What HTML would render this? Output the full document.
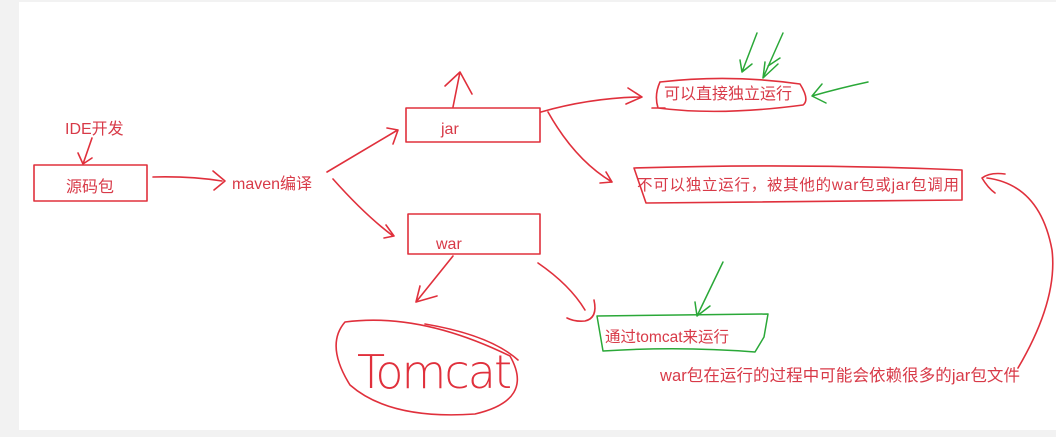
<!DOCTYPE html>
<html><head><meta charset="utf-8"><style>
html,body{margin:0;padding:0;background:#f2f2f2;width:1056px;height:437px;overflow:hidden}
svg{display:block}
text{font-family:"Liberation Sans","Noto Sans CJK SC",sans-serif;fill:#d83a48;font-size:16px}
</style></head><body>
<svg width="1056" height="437" viewBox="0 0 1056 437">
<rect x="19" y="2" width="1037" height="428" fill="#fff"/>
<g fill="none" stroke="#e0303c" stroke-width="1.6" stroke-linecap="round" stroke-linejoin="round">
<rect x="34" y="165" width="113" height="36"/>
<rect x="406" y="108" width="134" height="34"/>
<rect x="408" y="214" width="132" height="40"/>
<path d="M92 138 L83 164 M78 153 L83 164 L92 158"/>
<path d="M153 177 Q190 176 222 181 M213 171 L225 181 L214 190"/>
<path d="M327 172 L396 131 M387 128 L398 130 L393 144"/>
<path d="M333 179 Q365 215 393 236 M386 225 L394 236 L384 238"/>
<path d="M453 107 L460 72 M445 86 L460 72 L472 94"/>
<path d="M541 112 Q590 98 640 97 M628 88 L642 97 L626 104"/>
<path d="M548 112 Q575 160 612 182 M606 172 L612 182 L600 183"/>
<path d="M660 82 Q730 74 800 84 Q810 100 803 105 Q720 116 658 108 Q654 95 660 82 M652 108 L665 108"/>
<path d="M634 168 Q800 163 962 170 L962 200 Q800 202 646 203 Z"/>
<path d="M1005 174 Q990 172 982 178 Q988 188 995 193 M987 178 Q1040 185 1052 250 Q1058 300 1018 368"/>
<path d="M453 256 L416 302 M437 296 L416 302 L420 286"/>
<path d="M538 263 Q570 285 585 310 M594 300 Q598 318 585 321 Q575 322 567 318"/>
<path d="M345 322 Q420 312 510 356 Q535 400 475 414 Q390 420 350 385 Q325 345 345 322 Z"/>
<path d="M425 324 Q490 335 518 360"/>
</g>
<g fill="none" stroke="#2aa838" stroke-width="1.5" stroke-linecap="round" stroke-linejoin="round">
<path d="M757 33 L742 72 M740 60 L742 72 L752 64"/>
<path d="M783 33 L763 78 M765 62 L763 78 L778 64 M768 66 L780 58"/>
<path d="M868 82 Q840 88 812 96 M822 84 L812 96 L826 103"/>
<path d="M723 262 L697 316 M695 302 L697 316 L710 306"/>
<path d="M597 316 L768 314 L764 337 L755 352 Q680 346 603 351 Z"/>
</g>
<text x="65" y="134">IDE开发</text>
<text x="66" y="192">源码包</text>
<text x="232" y="189">maven编译</text>
<text x="441" y="134">jar</text>
<text x="436" y="249">war</text>
<text x="664" y="99">可以直接独立运行</text>
<text x="637" y="190" style="font-size:15.5px" textLength="322">不可以独立运行，被其他的war包或jar包调用</text>
<text x="605" y="342" style="font-size:15.5px">通过tomcat来运行</text>
<text x="660" y="381" style="font-size:16.5px" textLength="360">war包在运行的过程中可能会依赖很多的jar包文件</text>
<text x="357" y="388" textLength="155" style="font-family:'DejaVu Sans','Liberation Sans',sans-serif;font-weight:200;font-size:46px;fill:#e0303c">Tomcat</text>
</svg>
</body></html>
